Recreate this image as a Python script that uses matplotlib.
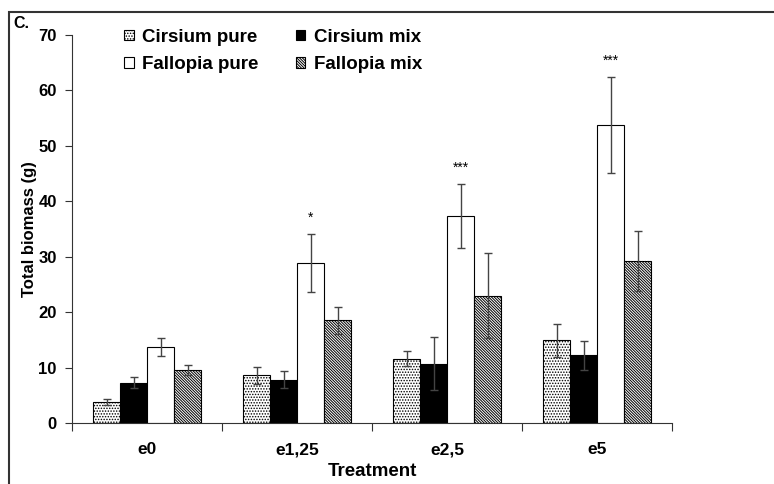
import matplotlib as mpl
mpl.use('Agg')
import matplotlib.pyplot as plt
from matplotlib.patches import Rectangle
import numpy as np

plt.rcParams['font.family'] = ['Liberation Sans', 'DejaVu Sans']
plt.rcParams['font.weight'] = 'bold'
plt.rcParams['hatch.linewidth'] = 0.7

treatments = ["e0", "e1,25", "e2,5", "e5"]
cirsium_pure = [3.8, 8.6, 11.6, 14.9]
cirsium_pure_err = [0.6, 1.5, 1.4, 3.0]
cirsium_mix = [7.3, 7.8, 10.7, 12.2]
cirsium_mix_err = [1.0, 1.5, 4.8, 2.6]
fallopia_pure = [13.7, 28.9, 37.4, 53.8]
fallopia_pure_err = [1.6, 5.2, 5.8, 8.7]
fallopia_mix = [9.6, 18.5, 23.0, 29.3]
fallopia_mix_err = [0.9, 2.4, 7.6, 5.4]
signif = ["", "*", "***", "***"]

series = [
    ("Cirsium pure", cirsium_pure, cirsium_pure_err, "white", "......"),
    ("Cirsium mix", cirsium_mix, cirsium_mix_err, "black", None),
    ("Fallopia pure", fallopia_pure, fallopia_pure_err, "white", None),
    ("Fallopia mix", fallopia_mix, fallopia_mix_err, "white", "\\" * 12),
]

fig = plt.figure(figsize=(7.74, 4.84), dpi=100)
ax = fig.add_axes([72/774, 1 - 423/484, 600/774, 388/484])

x = np.arange(len(treatments))
width = 0.18
offsets = [-1.5, -0.5, 0.5, 1.5]
handles = {}
for (name, vals, errs, color, hatch), off in zip(series, offsets):
    b = ax.bar(x + off*width, vals, width, color=color, edgecolor='black',
               linewidth=0.8, hatch=hatch, label=name, zorder=2)
    ax.errorbar(x + off*width, vals, yerr=errs, fmt='none', ecolor='#444444',
                elinewidth=1.0, capsize=3, capthick=1.0, zorder=3)
    handles[name] = b

# significance marks above Fallopia pure
for xi, v, e, s in zip(x, fallopia_pure, fallopia_pure_err, signif):
    if s:
        ax.text(xi + 0.5*width, v + e + 2.9, s, ha='center', va='center',
                fontsize=10, fontweight='normal')

ax.set_xlim(-0.5, len(treatments) - 0.5)
ax.set_ylim(0, 70)
ax.set_yticks(range(0, 71, 10))
ax.set_xticks(np.arange(-0.5, len(treatments), 1.0))
ax.set_xticklabels([])
ax.set_xticks(x, minor=True)
ax.set_xticklabels(treatments, minor=True)
ax.tick_params(axis='x', which='major', direction='out', length=6, color='#333333')
ax.tick_params(axis='x', which='minor', length=0, pad=14, labelsize=12.5)
ax.tick_params(axis='y', direction='out', length=5, color='#333333', labelsize=12, pad=6)
for side in ['top', 'right']:
    ax.spines[side].set_visible(False)
for side in ['left', 'bottom']:
    ax.spines[side].set_color('#333333')

ax.set_ylabel("Total biomass (g)", fontsize=12, fontweight='bold')
ax.yaxis.set_label_coords(-0.07, 0.5)
ax.set_xlabel("Treatment", fontsize=13.5, fontweight='bold')
ax.xaxis.set_label_coords(0.5, -0.126)
ax.xaxis.label.set_va('center')
ax.yaxis.label.set_va('center')

order = ["Cirsium pure", "Fallopia pure", "Cirsium mix", "Fallopia mix"]
ax.legend([handles[n] for n in order], order, ncol=2, frameon=False,
          loc='upper left', bbox_to_anchor=(0.087, 1.016), fontsize=13.5,
          handlelength=0.5, handleheight=0.5, handletextpad=0.45,
          columnspacing=2.0, labelspacing=0.55, borderaxespad=0, borderpad=0)

fig.text(13/774, 1 - 24/484, "C.", fontsize=11.5, fontweight='bold', va='center')
fig.patches.append(Rectangle((9/774, -0.1), 1.2, 1 - 12/484 + 0.1,
                             transform=fig.transFigure, fill=False,
                             edgecolor='#333333', linewidth=1.5))

fig.savefig("out.png", dpi=100)
